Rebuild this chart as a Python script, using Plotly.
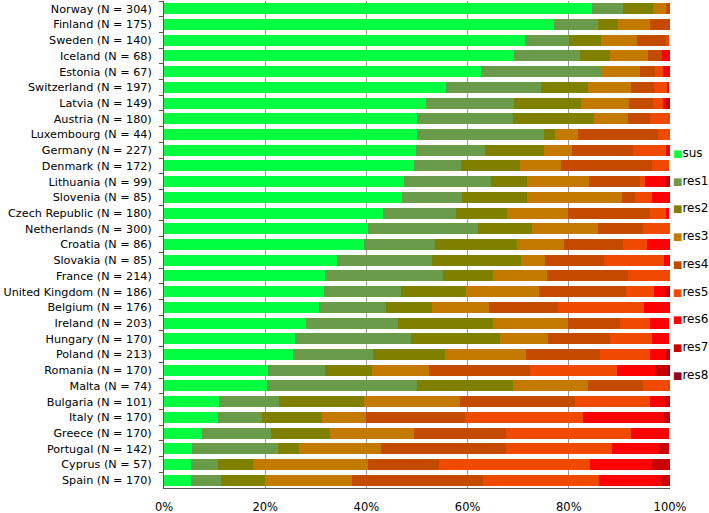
import plotly.graph_objects as go

# countries, top to bottom
countries = ["Norway (N = 304)", "Finland (N = 175)", "Sweden (N = 140)", "Iceland (N = 68)",
             "Estonia (N = 67)", "Switzerland (N = 197)", "Latvia (N = 149)", "Austria (N = 180)",
             "Luxembourg (N = 44)", "Germany (N = 227)", "Denmark (N = 172)", "Lithuania (N = 99)",
             "Slovenia (N = 85)", "Czech Republic (N = 180)", "Netherlands (N = 300)", "Croatia (N = 86)",
             "Slovakia (N = 85)", "France (N = 214)", "United Kingdom (N = 186)", "Belgium (N = 176)",
             "Ireland (N = 203)", "Hungary (N = 170)", "Poland (N = 213)", "Romania (N = 170)",
             "Malta (N = 74)", "Bulgaria (N = 101)", "Italy (N = 170)", "Greece (N = 170)",
             "Portugal (N = 142)", "Cyprus (N = 57)", "Spain (N = 170)"]

# percentage of each class per country (same order as countries)
sus  = [84.5, 77.1, 71.4, 69.1, 62.7, 55.8, 51.7, 50.0, 50.0, 49.8, 49.4, 47.5, 47.1, 43.3, 40.3, 39.5,
        34.1, 31.8, 31.7, 30.7, 28.1, 25.9, 25.4, 20.6, 20.3, 10.9, 10.6, 7.6, 5.6, 5.3, 5.3]
res1 = [6.3, 8.6, 8.6, 13.2, 23.9, 18.8, 17.4, 18.9, 25.0, 13.7, 9.3, 17.2, 11.8, 14.4, 21.7, 14.0,
        18.8, 23.4, 15.1, 13.1, 18.2, 22.9, 16.0, 11.2, 29.7, 11.9, 8.8, 13.5, 16.9, 5.3, 5.9]
res2 = [5.9, 4.0, 6.4, 5.9, 0.0, 9.1, 13.4, 16.1, 2.3, 11.5, 11.6, 7.1, 12.9, 10.0, 10.7, 16.3,
        17.6, 9.8, 12.9, 9.1, 18.7, 17.6, 14.1, 9.4, 18.9, 16.8, 11.8, 11.8, 4.2, 7.0, 8.8]
res3 = [2.6, 6.3, 7.1, 7.4, 7.5, 8.6, 9.4, 6.7, 4.5, 5.7, 8.1, 12.1, 18.8, 12.2, 13.0, 9.3,
        4.7, 10.7, 14.5, 11.4, 14.8, 9.4, 16.0, 11.2, 14.9, 18.8, 8.8, 16.5, 16.2, 22.8, 17.1]
res4 = [0.7, 4.0, 5.7, 2.9, 3.0, 4.6, 4.7, 4.4, 15.9, 11.9, 18.0, 10.1, 2.4, 16.1, 9.0, 11.6,
        11.8, 15.9, 17.2, 13.6, 10.3, 12.4, 14.6, 20.0, 10.8, 22.8, 19.4, 18.2, 24.6, 14.0, 25.9]
res5 = [0.0, 0.0, 0.7, 0.0, 1.5, 2.5, 2.0, 3.9, 2.3, 6.6, 3.5, 1.0, 3.5, 3.3, 5.3, 4.7,
        11.8, 8.4, 5.4, 17.0, 5.9, 8.2, 9.9, 17.1, 5.4, 14.9, 23.5, 24.7, 21.1, 29.8, 22.9]
res6 = [0.0, 0.0, 0.0, 1.5, 1.5, 0.5, 0.7, 0.0, 0.0, 0.9, 0.0, 4.0, 3.5, 0.6, 0.0, 4.7,
        1.2, 0.0, 2.2, 5.1, 3.9, 3.5, 3.3, 7.6, 0.0, 3.0, 15.9, 7.6, 9.2, 12.3, 12.4]
res7 = [0.0, 0.0, 0.0, 0.0, 0.0, 0.0, 0.7, 0.0, 0.0, 0.0, 0.0, 1.0, 0.0, 0.0, 0.0, 0.0,
        0.0, 0.0, 1.1, 0.0, 0.0, 0.0, 0.9, 2.4, 0.0, 1.0, 1.2, 0.0, 2.1, 3.5, 1.8]
res8 = [0.0, 0.0, 0.0, 0.0, 0.0, 0.0, 0.0, 0.0, 0.0, 0.0, 0.0, 0.0, 0.0, 0.0, 0.0, 0.0,
        0.0, 0.0, 0.0, 0.0, 0.0, 0.0, 0.0, 0.6, 0.0, 0.0, 0.0, 0.0, 0.0, 0.0, 0.0]

names = ["sus", "res1", "res2", "res3", "res4", "res5", "res6", "res7", "res8"]
series = [sus, res1, res2, res3, res4, res5, res6, res7, res8]
colors = ["#00FF40", "#6A9B4B", "#808000", "#C47A00", "#C44A00",
          "#F04A00", "#FF0000", "#C80000", "#9A0026"]

fig = go.Figure()
for nm, vals, col in zip(names, series, colors):
    fig.add_trace(go.Bar(y=countries, x=vals, name=nm, orientation="h",
                         marker=dict(color=col, line=dict(width=0)),
                         showlegend=False))

# the legend is narrow in the original, so write it as text next to the plot
plot_h = 487
for i, (nm, col) in enumerate(zip(names, colors)):
    ypix = 152 + i * 27.7
    fig.add_annotation(xref="paper", yref="paper", x=1, y=1 - ypix / plot_h,
                       xanchor="left", yanchor="middle", xshift=1, showarrow=False,
                       text="<span style='color:%s;font-size:10px'>■</span>%s" % (col, nm),
                       font=dict(size=12))

fig.update_layout(
    barmode="stack",
    bargap=0.3,
    width=709, height=513,
    margin=dict(l=164, r=39, t=1, b=25, autoexpand=False),
    paper_bgcolor="white", plot_bgcolor="white",
    font=dict(family="DejaVu Sans", size=11.5, color="black"),
    showlegend=False,
)
fig.update_xaxes(range=[0, 100], tickvals=[0, 20, 40, 60, 80, 100],
                 ticktext=["0%", "20%", "40%", "60%", "80%", "100%"],
                 showgrid=True, gridcolor="#9a9a9a", gridwidth=1,
                 showline=True, linecolor="#555555", linewidth=1, mirror=False,
                 zeroline=False, ticks="", fixedrange=True, ticklabelstandoff=8)
fig.update_yaxes(autorange="reversed", showline=True, linecolor="#555555", linewidth=1,
                 ticks="outside", tickson="boundaries", ticklen=4, tickcolor="#555555",
                 showgrid=False, ticklabelstandoff=9, tickfont=dict(size=11.2))

# drop the browser's default body margin so the figure sits at the top-left corner
fig.write_html("out.html", config={"displayModeBar": False},
               post_script="document.body.style.margin='0';")
